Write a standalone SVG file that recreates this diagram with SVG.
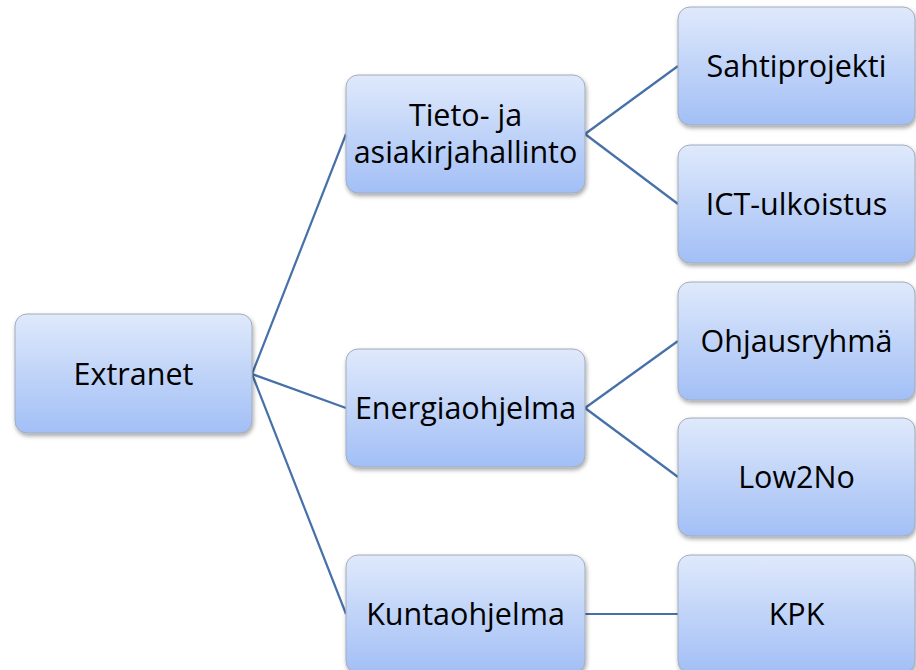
<svg xmlns="http://www.w3.org/2000/svg" width="916" height="670" viewBox="0 0 916 670">
<defs>
<linearGradient id="g" x1="0" y1="0" x2="0" y2="1">
<stop offset="0" stop-color="#dfe9fb"/>
<stop offset="1" stop-color="#a2bff6"/>
</linearGradient>
<filter id="sh" x="-10%" y="-10%" width="125%" height="130%">
<feDropShadow dx="1" dy="2.5" stdDeviation="2" flood-color="#000" flood-opacity="0.35"/>
</filter>
<style>
.box{fill:url(#g);stroke:#a3acbd;stroke-width:1;filter:url(#sh)}
.t{font-family:"Open Sans","Liberation Sans",sans-serif;font-size:30.5px;fill:#000;text-anchor:middle}
.c{stroke:#4670a8;stroke-width:2.2;fill:none}
</style>
</defs>
<rect width="916" height="670" fill="#fff"/>
<g id="connectors">
<line class="c" x1="252" y1="374" x2="346" y2="134"/>
<line class="c" x1="252" y1="374" x2="346" y2="408"/>
<line class="c" x1="252" y1="374" x2="346" y2="614"/>
<line class="c" x1="585" y1="134" x2="678" y2="66"/>
<line class="c" x1="585" y1="134" x2="678" y2="204"/>
<line class="c" x1="585" y1="408" x2="678" y2="341"/>
<line class="c" x1="585" y1="408" x2="678" y2="477"/>
<line class="c" x1="585" y1="614" x2="678" y2="614"/>
</g>
<g id="extranet"><rect class="box" x="15" y="314" width="237" height="119" rx="12"/><text class="t" x="133.5" y="385">Extranet</text></g>
<g id="tieto"><rect class="box" x="346" y="75" width="239" height="118" rx="12"/><text class="t" x="465.5" y="126">Tieto- ja</text><text class="t" x="465.5" y="163">asiakirjahallinto</text></g>
<g id="energia"><rect class="box" x="346" y="349" width="239" height="118" rx="12"/><text class="t" x="465.5" y="419">Energiaohjelma</text></g>
<g id="kunta"><rect class="box" x="346" y="555" width="239" height="118" rx="12"/><text class="t" x="465.5" y="625">Kuntaohjelma</text></g>
<g id="sahti"><rect class="box" x="678" y="7" width="237" height="118" rx="12"/><text class="t" x="796.5" y="77">Sahtiprojekti</text></g>
<g id="ict"><rect class="box" x="678" y="145" width="237" height="118" rx="12"/><text class="t" x="796.5" y="215">ICT-ulkoistus</text></g>
<g id="ohjaus"><rect class="box" x="678" y="282" width="237" height="118" rx="12"/><text class="t" x="796.5" y="352">Ohjausryhmä</text></g>
<g id="low2no"><rect class="box" x="678" y="418" width="237" height="118" rx="12"/><text class="t" x="796.5" y="488">Low2No</text></g>
<g id="kpk"><rect class="box" x="678" y="555" width="237" height="118" rx="12"/><text class="t" x="796.5" y="625">KPK</text></g>
</svg>
